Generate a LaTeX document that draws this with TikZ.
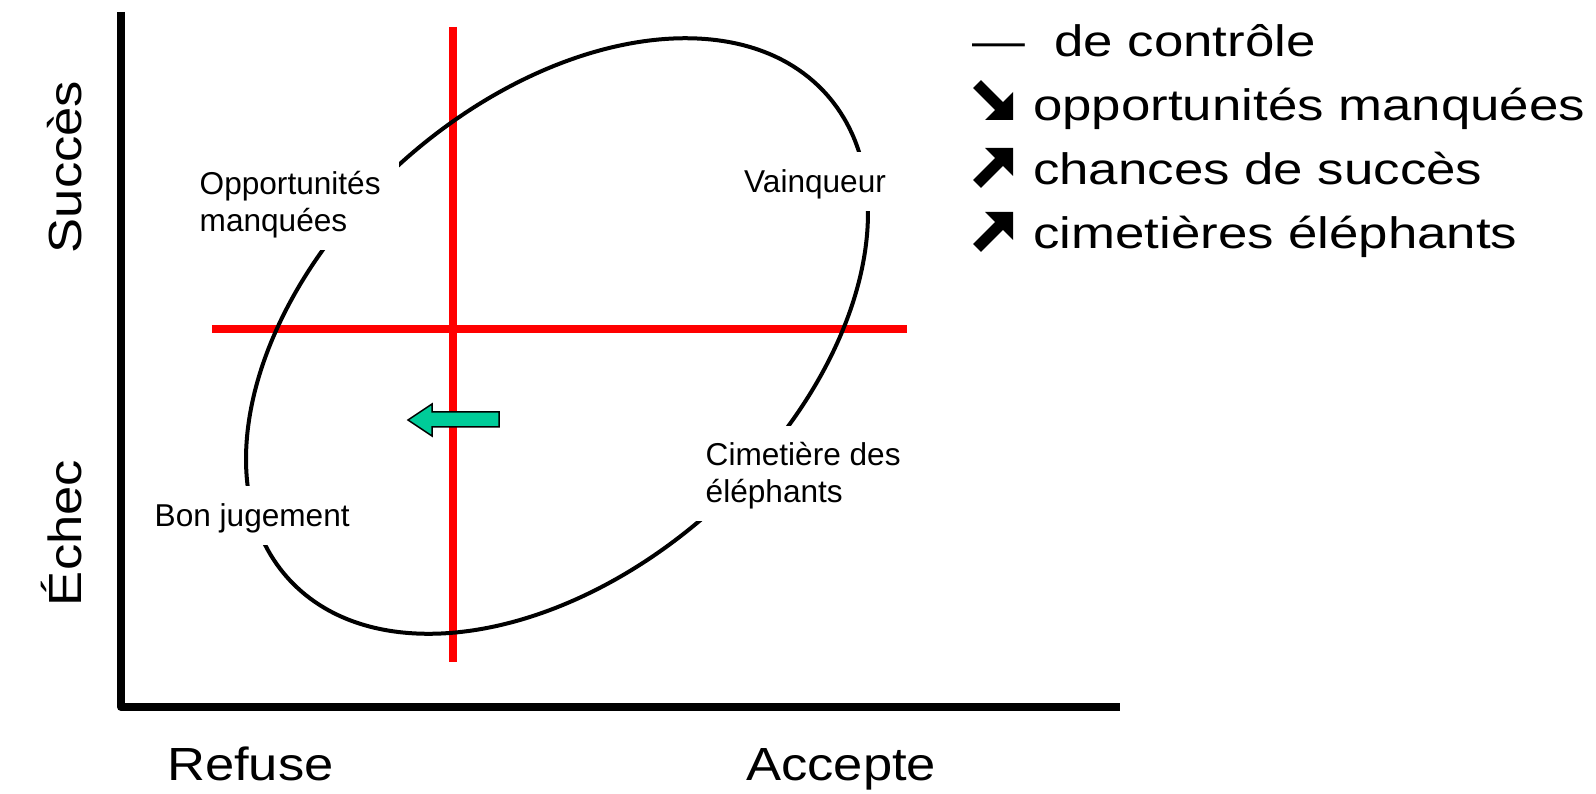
\documentclass[tikz,border=0pt]{standalone}
\usepackage{fontspec}
\setmainfont{Liberation Sans}
\newfontfamily\legendfont{Liberation Sans}[FakeStretch=1.2]
\newfontfamily\axisfont{Liberation Sans}[FakeStretch=1.13]
\definecolor{shiftgreen}{HTML}{00CC99}
\tikzset{
    pics/bigarrow/.style={code={
        \fill (0,0) -- (-28,0) -- (0,-28) -- cycle;
        \draw[line width=11pt] (-12,-12) -- (-36,-36);
    }}
}

\begin{document}
\begin{tikzpicture}[
    x=1pt, y=1pt,
    axis/.style={line width=8pt, line join=round},
    cross/.style={draw=red, line width=8pt},
    curve/.style={line width=4pt},
    zone/.style={fill=white, inner xsep=18pt, inner ysep=0pt, text height=41pt, text depth=18.5pt, align=left, anchor=base west, font=\fontsize{31.6}{37}\selectfont},
    axislabel/.style={inner sep=0pt, font=\axisfont\fontsize{46.5}{50}\selectfont},
    legend/.style={inner sep=0pt, anchor=base west, font=\legendfont\fontsize{44}{50}\selectfont}
]
\useasboundingbox (0,0) rectangle (1596,793);

% axes
\coordinate (top) at (121,781);
\coordinate (origin) at (121,86);
\coordinate (right) at (1120,86);
\draw[axis] (top) -- (origin) -- (right);

% red cross
\coordinate (vtop) at (453,766);
\coordinate (vbot) at (453,131);
\coordinate (hleft) at (212,464);
\coordinate (hright) at (907,464);
\draw[cross] (vtop) -- (vbot);
\draw[cross] (hleft) -- (hright);

% tilted ellipse
\coordinate (centre) at (557,457);
\draw[curve, rotate around={42:(centre)}] (centre) ellipse (362 and 233);

% quadrant labels (base = last line)
\node[zone, text height=79pt] (missed) at (181.5,561) {Opportunités\\manquées};
\node[zone] (winner) at (726,600) {Vainqueur};
\node[zone] (judgement) at (136.5,266) {Bon jugement};
\node[zone, text height=77pt] (graveyard) at (687.5,290) {Cimetière des\\éléphants};

% shift arrow
\draw[fill=shiftgreen, line width=1.5pt] (499,381) -- (432,381) -- (432,389) -- (408,373) -- (432,357) -- (432,366) -- (499,366) -- cycle;

% axis labels
\node[axislabel, anchor=base west] (refuse) at (167,13) {Refuse};
\node[axislabel, anchor=base west] (accepte) at (746,13) {Accepte};
\node[axislabel, rotate=90, anchor=base] (succes) at (81,626) {Succès};
\node[axislabel, rotate=90, anchor=base] (echec) at (81,260) {Échec};

% legend
\node[legend] (legctrl) at (972,736) {—\ \ de contrôle};
\node[legend] (legmissed) at (1033,672) {opportunités manquées};
\node[legend] (legchances) at (1033,608) {chances de succès};
\node[legend] (leggrave) at (1033,544) {cimetières éléphants};
\pic[rotate=-90] at (1013,673) {bigarrow};
\pic at (1013,645) {bigarrow};
\pic at (1013,581) {bigarrow};

\end{tikzpicture}
\end{document}
